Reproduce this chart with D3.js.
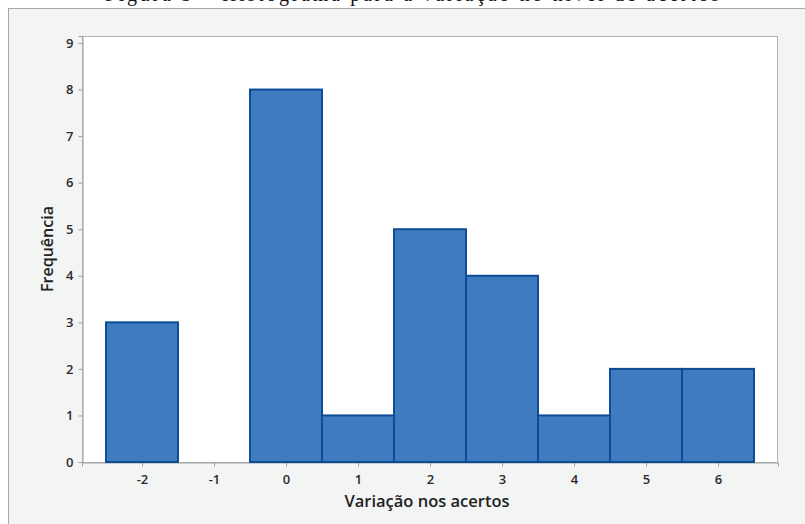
<!DOCTYPE html>
<html><head><meta charset="utf-8">
<script src="https://cdn.jsdelivr.net/npm/d3@7"></script>
<style>body{margin:0;background:#fff}svg{display:block}</style>
</head><body>
<svg id="c" width="805" height="524"></svg>
<script>
const categories = [-2, -1, 0, 1, 2, 3, 4, 5, 6];
const frequencies = [3, 0, 8, 1, 5, 4, 1, 2, 2];
const yTicks = [0, 1, 2, 3, 4, 5, 6, 7, 8, 9];
const titleText = "Figura 5 – Histograma para a variação no nível de acertos";
const xTitle = "Variação nos acertos";
const yTitle = "Frequência";

const svg = d3.select("#c");
const W = 805, H = 524;
const plot = {l: 82, t: 36, r: 778, b: 462};

// outer panel
svg.append("rect").attr("x", 8.5).attr("y", 8.5).attr("width", W + 10).attr("height", H + 10)
  .attr("fill", "#f3f4f4").attr("stroke", "#a9a9a9").attr("stroke-width", 1);

// title (clipped by the top edge as in the source image)
svg.append("text").attr("x", 412).attr("y", 1).attr("text-anchor", "middle")
  .attr("font-family", "Liberation Serif, Times New Roman, serif").attr("font-size", 20)
  .attr("fill", "#111").attr("textLength", 614).attr("lengthAdjust", "spacing").text(titleText);
svg.append("rect").attr("x", 9).attr("y", 9).attr("width", W).attr("height", 20).attr("fill", "#f3f4f4");

const x = d3.scaleLinear().domain([-2.8333, 6.8333]).range([plot.l, plot.r]);
const y = d3.scaleLinear().domain([0, 9.15]).range([plot.b, plot.t]);

svg.append("rect").attr("x", plot.l).attr("y", plot.t).attr("width", plot.r - plot.l).attr("height", plot.b - plot.t)
  .attr("fill", "#fff");
svg.append("rect").attr("x", plot.l + 0.5).attr("y", plot.t + 0.5).attr("width", plot.r - plot.l - 1).attr("height", plot.b - plot.t)
  .attr("fill", "none").attr("stroke", "#b4b4b4").attr("stroke-width", 1);

const font = "Open Sans, Noto Sans, sans-serif";
const xAxis = svg.append("g").attr("transform", `translate(0,${plot.b + 0.5})`)
  .call(d3.axisBottom(x).tickValues(categories).tickSize(4).tickPadding(6).tickFormat(d => String(d)));
const yAxis = svg.append("g").attr("transform", `translate(${plot.l + 0.5},0)`)
  .call(d3.axisLeft(y).tickValues(yTicks).tickSize(4).tickPadding(5).tickFormat(d => String(d)));
[xAxis, yAxis].forEach(a => {
  a.select(".domain").attr("stroke", "#a0a0a0");
  a.selectAll(".tick line").attr("stroke", "#a0a0a0");
  a.selectAll(".tick text").attr("font-family", font).attr("font-size", 13).attr("font-weight", 600).attr("fill", "#2b2b2b");
});
xAxis.selectAll(".tick text").attr("dy", "0.85em");

// bars
svg.append("g").selectAll("rect").data(categories.map((c, i) => ({c, v: frequencies[i]})))
  .join("rect")
  .attr("x", d => x(d.c - 0.5))
  .attr("y", d => y(d.v))
  .attr("width", d => x(d.c + 0.5) - x(d.c - 0.5))
  .attr("height", d => y(0) - y(d.v))
  .attr("fill", "#3e7bbf").attr("stroke", "#0e4d96").attr("stroke-width", 2);

svg.append("text").attr("x", 427).attr("y", 507).attr("text-anchor", "middle")
  .attr("font-family", font).attr("font-size", 16.5).attr("font-weight", 600).attr("fill", "#222").text(xTitle);
svg.append("text").attr("transform", `translate(53,${(plot.t + plot.b) / 2}) rotate(-90)`).attr("text-anchor", "middle")
  .attr("font-family", font).attr("font-size", 16).attr("font-weight", 600).attr("fill", "#222").text(yTitle);
</script>
</body></html>
